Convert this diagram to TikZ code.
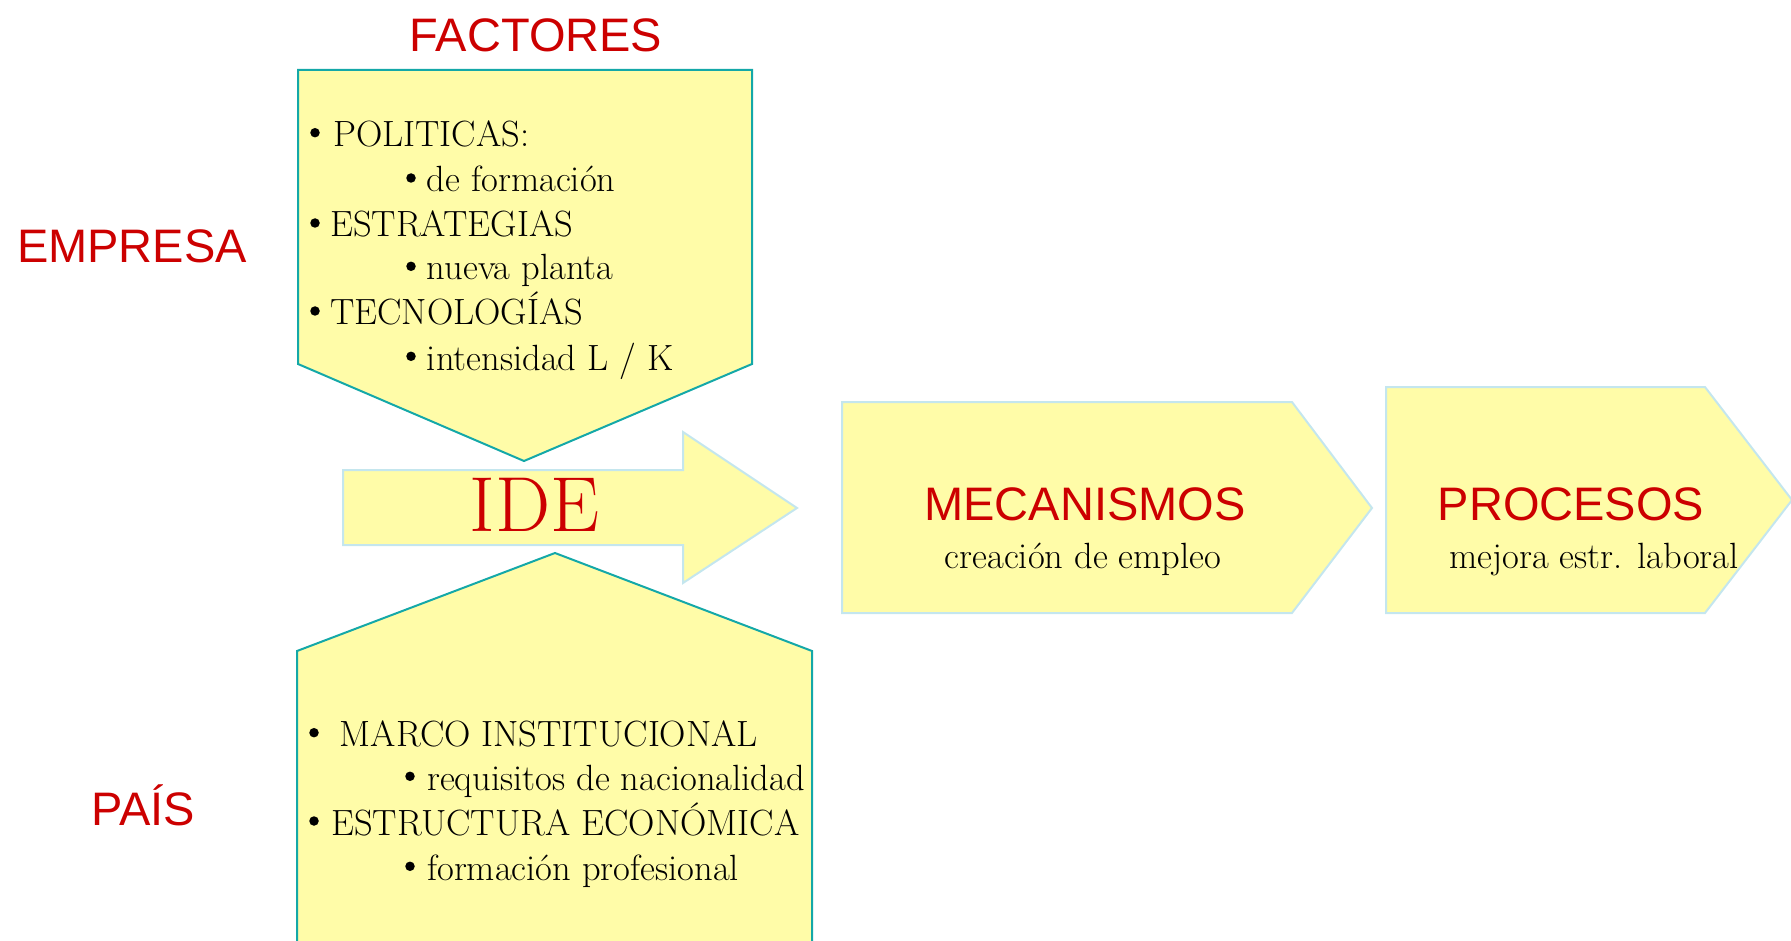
\documentclass[tikz,border=0pt]{standalone}
\usepackage{fontspec}
\newfontfamily\sansf{Liberation Sans}
\definecolor{fillY}{HTML}{FFFCA8}
\definecolor{tealB}{HTML}{14A8A8}
\definecolor{lblue}{HTML}{C4E6EE}
\definecolor{redT}{HTML}{CC0000}
\begin{document}
\begin{tikzpicture}[x=1pt,y=-1pt,
  pent/.style={fill=fillY,draw=tealB,line width=2pt,line join=miter},
  arr/.style={fill=fillY,draw=lblue,line width=2pt,line join=miter},
  head/.style={font=\sansf\fontsize{47}{50}\selectfont,text=redT,inner sep=0pt,anchor=base},
  item/.style={font=\fontsize{36.5}{40}\selectfont,inner sep=0pt,anchor=base west},
  sub/.style={font=\fontsize{36.5}{40}\selectfont,inner sep=0pt,anchor=base},
  dot/.style={circle,fill=black,minimum size=9.5pt,inner sep=0pt}]
\useasboundingbox (0,0) rectangle (1791,941);
\clip (0,0) rectangle (1791,941);
% shapes
\path[pent] (298,70) -- (752,70) -- (752,364) -- (524,461) -- (298,364) -- cycle;
\path[arr] (343,470) -- (683,470) -- (683,432) -- (797,508) -- (683,583) -- (683,545) -- (343,545) -- cycle;
\path[pent] (297,651) -- (555,553) -- (812,651) -- (812,960) -- (297,960) -- cycle;
\path[arr] (842,402) -- (1292,402) -- (1372,508) -- (1292,613) -- (842,613) -- cycle;
\path[arr] (1386,387) -- (1705,387) -- (1792,500) -- (1705,613) -- (1386,613) -- cycle;
% headings
\node[head] (fac) at (536,52) {FACTORES};
\node[head] (emp) at (132,263) {EMPRESA};
\node[head] (pais) at (143,825) {PAÍS};
\node[head] (mec) at (1085,520) {MECANISMOS};
\node[head] (pro) at (1571,520) {PROCESOS};
\node[sub] (mecs) at (1083,568) {creación de empleo};
\node[sub] (pros) at (1594,568) {mejora estr. laboral};
\node[inner sep=0pt,anchor=base,text=redT,font=\fontsize{78}{80}\selectfont] (ide) at (534.5,531) {IDE};
% top list
\node[dot] (d1) at (315,132.7) {};
\node[item] (t1) at (333,146.7) {POLITICAS:};
\node[dot] (d2) at (411,178) {};
\node[item] (t2) at (426.7,191.7) {de formación};
\node[dot] (d3) at (315,223) {};
\node[item] (t3) at (330,237) {ESTRATEGIAS};
\node[dot] (d4) at (411,266.3) {};
\node[item] (t4) at (426.7,280) {nueva planta};
\node[dot] (d5) at (315,311) {};
\node[item] (t5) at (330,325) {TECNOLOGÍAS};
\node[dot] (d6) at (411,356.3) {};
\node[item] (t6) at (426.7,370) {intensidad L / K};
% bottom list
\node[dot] (e1) at (314,732.7) {};
\node[item] (b1) at (339.6,746.7) {MARCO INSTITUCIONAL};
\node[dot] (e2) at (410,776.3) {};
\node[item] (b2) at (427,790) {requisitos de nacionalidad};
\node[dot] (e3) at (314,821) {};
\node[item] (b3) at (331,835) {ESTRUCTURA ECONÓMICA};
\node[dot] (e4) at (410,866.3) {};
\node[item] (b4) at (427,880) {formación profesional};
\end{tikzpicture}
\end{document}
